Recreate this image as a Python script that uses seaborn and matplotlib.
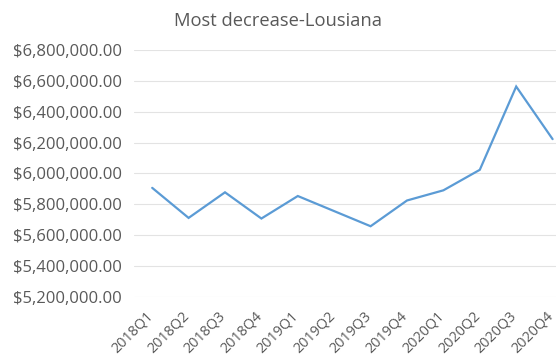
import matplotlib
matplotlib.use("Agg")
import matplotlib.pyplot as plt
import seaborn as sns
import pandas as pd
from matplotlib.ticker import FuncFormatter
from matplotlib.transforms import ScaledTranslation

quarters = ["2018Q1", "2018Q2", "2018Q3", "2018Q4",
            "2019Q1", "2019Q2", "2019Q3", "2019Q4",
            "2020Q1", "2020Q2", "2020Q3", "2020Q4"]
amounts = [5906000, 5711000, 5877000, 5707000,
           5853000, 5755000, 5657000, 5824000,
           5890000, 6023000, 6563000, 6222000]
y_ticks = [5200000, 5400000, 5600000, 5800000, 6000000,
           6200000, 6400000, 6600000, 6800000]

df = pd.DataFrame({"quarter": quarters, "amount": amounts})
df["pos"] = range(len(df))

sns.set_style("white")
plt.rcParams["font.family"] = ["Open Sans", "DejaVu Sans"]

fig = plt.figure(figsize=(5.56, 3.61), dpi=100)
ax = fig.add_axes([134 / 556, 64.3 / 361, 436.8 / 556, 246.7 / 361])

sns.lineplot(data=df, x="pos", y="amount", ax=ax, color="#5B9BD5",
             linewidth=1.6, solid_joinstyle="miter")

ax.set_xlim(-0.5, len(quarters) - 0.5)
ax.set_ylim(y_ticks[0], y_ticks[-1])
ax.set_yticks(y_ticks)
ax.yaxis.set_major_formatter(FuncFormatter(lambda v, p: f"${v:,.2f}"))
ax.set_xticks(range(len(quarters)))
ax.set_xticklabels([])

# category labels, slanted and nudged below-left of each tick
offset = ScaledTranslation(-7 / 100, -12 / 100, fig.dpi_scale_trans)
label_tf = ax.get_xaxis_transform() + offset
for i, q in enumerate(quarters):
    ax.text(i, 0, q, transform=label_tf, rotation=45, ha="right", va="top",
            rotation_mode="anchor", fontsize=10.4, color="#595959")

ax.grid(axis="y", color="#E3E3E3", linewidth=0.8)
ax.grid(axis="x", visible=False)
for s in ax.spines.values():
    s.set_visible(False)
ax.tick_params(axis="y", length=0, pad=8.5, labelsize=12, labelcolor="#595959")
ax.tick_params(axis="x", length=0)
ax.set_xlabel("")
ax.set_ylabel("")

fig.text(0.5, 1 - 21 / 361, "Most decrease-Lousiana", ha="center",
         va="center", fontsize=13.2, color="#595959")

fig.savefig("out.png", dpi=100)
